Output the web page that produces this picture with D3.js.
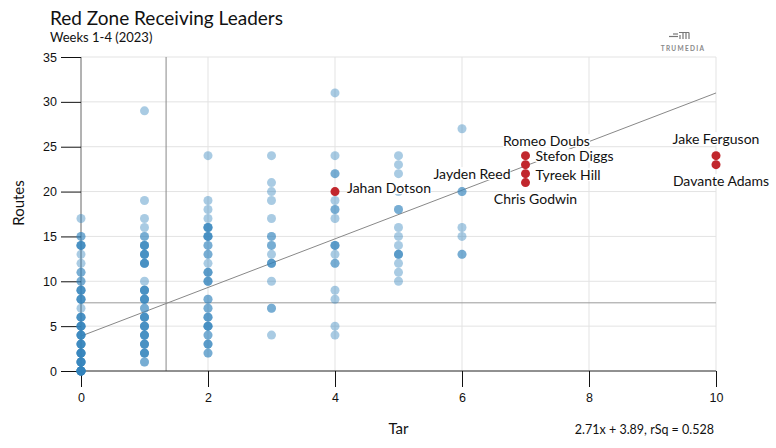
<!DOCTYPE html>
<html>
<head>
<meta charset="utf-8">
<script src="https://cdn.jsdelivr.net/npm/d3@7"></script>
<style>
  body { margin: 0; background: #fff; }
  svg { display: block; }
  .tick text { font-family: "Liberation Sans", Arial, sans-serif; font-size: 12.5px; fill: #111; }
</style>
</head>
<body>
<div id="chart"></div>
<script>
// routes run at each target count, with how many players share that spot
var tarCols     = [0, 1, 2, 3, 4, 5, 6];
var routesByTar = [
  [17,15,14,13,12,11,10,9,8,7,6,5,4,3,2,1,0],
  [29,19,17,16,15,14,13,12,10,9,8,7,6,5,4,3,2,1],
  [24,19,18,17,16,15,14,13,12,11,10,8,7,6,5,4,3,2],
  [24,21,20,19,17,15,14,13,12,10,7,4],
  [31,24,22,19,18,17,14,13,12,9,8,5,4],
  [24,23,22,20,18,16,15,14,13,12,11,10],
  [27,22,20,16,15,13]
];
var countsByTar = [
  [1,2,4,1,1,2,2,4,4,1,4,5,5,5,6,6,9],
  [1,1,1,1,2,4,4,4,1,4,4,2,4,4,4,4,4,2],
  [1,1,1,1,4,4,2,2,1,3,3,2,2,3,4,2,3,2],
  [1,1,1,1,1,2,2,1,3,1,2,1],
  [1,1,2,1,2,1,3,1,2,1,1,1,1],
  [1,1,1,1,2,1,1,1,3,1,1,1],
  [1,1,2,1,1,2]
];

// red zone leaders
var leaderNames  = ["Jahan Dotson","Jayden Reed","Romeo Doubs","Stefon Diggs","Tyreek Hill","Chris Godwin","Jake Ferguson","Davante Adams"];
var leaderTar    = [4, 6, 7, 7, 7, 7, 10, 10];
var leaderRoutes = [20, 22, 24, 23, 22, 21, 24, 23];

var xTicks = [0, 2, 4, 6, 8, 10];
var yTicks = [0, 5, 10, 15, 20, 25, 30, 35];

var fitSlope = 2.71, fitIntercept = 3.89, fitRsq = 0.528;
var meanTar = 1.34, meanRoutes = 7.6;

// label placement around each leader dot
var labelPos = [
  {anchor:"start",  dx:12, dy:-4},
  {anchor:"middle", dx:10, dy:0},
  {anchor:"middle", dx:21, dy:-15},
  {anchor:"start",  dx:10, dy:-9},
  {anchor:"start",  dx:10, dy:1},
  {anchor:"middle", dx:10, dy:16},
  {anchor:"middle", dx:0,  dy:-17},
  {anchor:"middle", dx:5,  dy:16}
];

var W = 776, H = 448;
var mLeft = 81, mRight = 716, mTop = 57, mBottom = 371;

var svg = d3.select("#chart").append("svg")
      .attr("width", W).attr("height", H)
      .style("font-family", "Lato, 'Open Sans', sans-serif");

var x = d3.scaleLinear().domain([0, 10]).range([mLeft, mRight]);
var y = d3.scaleLinear().domain([0, 35]).range([mBottom, mTop]);

// title
svg.append("text").attr("x", 50).attr("y", 25)
   .style("font-size", "19px").style("fill", "#111")
   .text("Red Zone Receiving Leaders");
svg.append("text").attr("x", 50).attr("y", 42)
   .style("font-size", "13px").style("fill", "#111")
   .text("Weeks 1-4 (2023)");

// logo
var logo = svg.append("g").attr("stroke", "#777").attr("stroke-width", 1.2).attr("fill", "none");
logo.append("line").attr("x1", 669).attr("x2", 678).attr("y1", 36.5).attr("y2", 36.5);
logo.append("line").attr("x1", 673).attr("x2", 678).attr("y1", 34).attr("y2", 34);
logo.append("path").attr("d", "M679,32.5 H689 M683,32.5 V39 M686,32.5 V39 M689,32.5 V39 M680,35 V39");
svg.append("text").attr("x", 683).attr("y", 51)
   .attr("text-anchor", "middle")
   .style("font-size", "6.5px").style("letter-spacing", "1.3px").style("font-weight", "bold").style("fill", "#888")
   .text("TRUMEDIA");

// grid
svg.append("g").selectAll("line").data(yTicks.slice(1)).enter().append("line")
   .attr("x1", mLeft).attr("x2", mRight)
   .attr("y1", function(d){ return y(d); }).attr("y2", function(d){ return y(d); })
   .attr("stroke", "#e3e3e3");
svg.append("g").selectAll("line").data(xTicks.slice(1)).enter().append("line")
   .attr("x1", function(d){ return x(d); }).attr("x2", function(d){ return x(d); })
   .attr("y1", mTop).attr("y2", mBottom)
   .attr("stroke", "#e3e3e3");

// mean lines
svg.append("line").attr("x1", x(meanTar)).attr("x2", x(meanTar))
   .attr("y1", mTop).attr("y2", mBottom).attr("stroke", "#888");
svg.append("line").attr("x1", mLeft).attr("x2", mRight)
   .attr("y1", y(meanRoutes)).attr("y2", y(meanRoutes)).attr("stroke", "#999");

// axes
var xAxis = d3.axisBottom(x).tickValues(xTicks).tickSize(16).tickPadding(6).tickFormat(d3.format("d"));
var yAxis = d3.axisLeft(y).tickValues(yTicks).tickSize(20).tickPadding(4).tickFormat(d3.format("d"));
var gx = svg.append("g").attr("transform", "translate(0," + mBottom + ")").call(xAxis);
gx.select(".domain").attr("stroke", "#222").attr("d", "M" + mLeft + ",0H" + mRight);
gx.selectAll(".tick line").attr("stroke", "#111");
var gy = svg.append("g").attr("transform", "translate(" + mLeft + ",0)").call(yAxis);
gy.select(".domain").attr("stroke", "#666").attr("d", "M0," + mTop + "V" + mBottom);
gy.selectAll(".tick line").attr("stroke", "#111");

// regression line
svg.append("line")
   .attr("x1", x(0)).attr("y1", y(fitIntercept))
   .attr("x2", x(10)).attr("y2", y(fitIntercept + fitSlope * 10))
   .attr("stroke", "#888").attr("stroke-width", 1);

// blue dots, one per player
var pts = [];
tarCols.forEach(function(t, i){
  routesByTar[i].forEach(function(r, j){
    for (var k = 0; k < countsByTar[i][j]; k++) pts.push({tar: t, routes: r});
  });
});
svg.append("g").selectAll("circle").data(pts).enter().append("circle")
   .attr("cx", function(d){ return x(d.tar); })
   .attr("cy", function(d){ return y(d.routes); })
   .attr("r", 4.5)
   .attr("fill", "#3182bd").attr("fill-opacity", 0.42);

// leaders
var leaders = leaderNames.map(function(n, i){
  return {name: n, tar: leaderTar[i], routes: leaderRoutes[i], pos: labelPos[i]};
});
svg.append("g").selectAll("circle").data(leaders).enter().append("circle")
   .attr("cx", function(d){ return x(d.tar); })
   .attr("cy", function(d){ return y(d.routes); })
   .attr("r", 4.5)
   .attr("fill", "#c1272d");

var lab = svg.append("g").selectAll("g").data(leaders).enter().append("g");
lab.append("rect").attr("fill", "#fff");
lab.append("text")
   .attr("x", function(d){ return x(d.tar) + d.pos.dx; })
   .attr("y", function(d){ return y(d.routes) + d.pos.dy; })
   .attr("text-anchor", function(d){ return d.pos.anchor; })
   .attr("dominant-baseline", "central")
   .style("font-size", "14px").style("fill", "#111")
   .text(function(d){ return d.name; });
lab.each(function(){
  var g = d3.select(this), b = g.select("text").node().getBBox();
  g.select("rect").attr("x", b.x).attr("y", b.y + 2).attr("width", b.width).attr("height", b.height - 4);
});

// axis titles
svg.append("text").attr("transform", "translate(18,203) rotate(-90)")
   .attr("text-anchor", "middle").attr("dominant-baseline", "central")
   .style("font-size", "15px").style("fill", "#111")
   .text("Routes");
svg.append("text").attr("x", (mLeft + mRight) / 2).attr("y", 434)
   .attr("text-anchor", "middle").style("font-size", "15px").style("fill", "#111")
   .text("Tar");
svg.append("text").attr("x", 714).attr("y", 434)
   .attr("text-anchor", "end").style("font-size", "12.5px").style("fill", "#111")
   .text(fitSlope + "x + " + fitIntercept + ", rSq = " + fitRsq);
</script>
</body>
</html>
